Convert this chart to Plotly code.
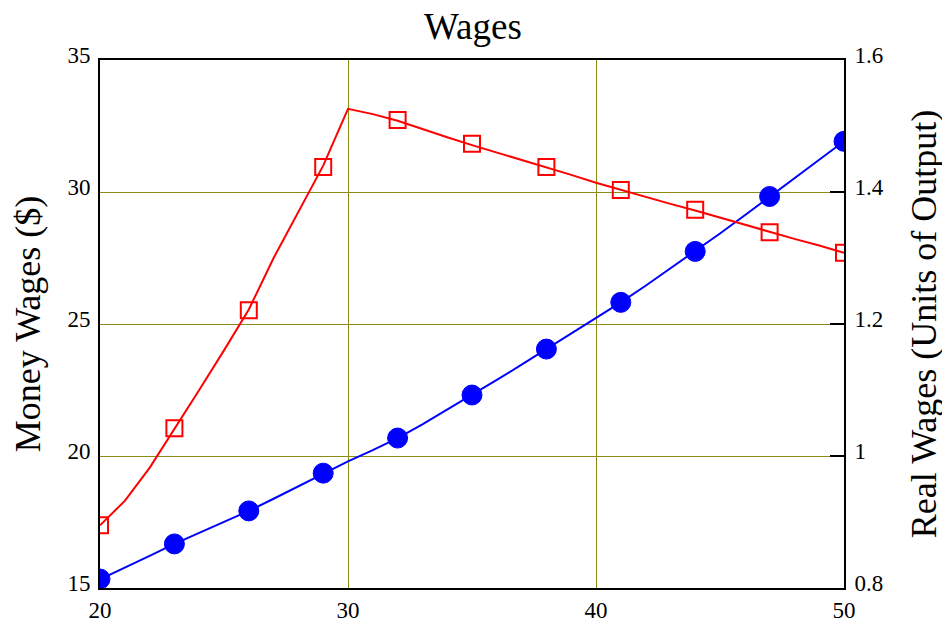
import plotly.graph_objects as go

# Dense curve samples (x = 20..50)
x_line = list(range(20, 51))
money_line = [15.33, 15.76, 16.22, 16.67, 17.08, 17.50, 17.92, 18.38, 18.86, 19.35,
              19.80, 20.22, 20.68, 21.20, 21.75, 22.31, 22.88, 23.46, 24.05, 24.63,
              25.22, 25.82, 26.45, 27.10, 27.75, 28.43, 29.12, 29.83, 30.52, 31.22, 31.92]
real_line = [0.895, 0.932, 0.982, 1.040, 1.100, 1.160, 1.222, 1.300, 1.370, 1.440,
             1.526, 1.518, 1.508, 1.495, 1.483, 1.471, 1.460, 1.449, 1.438, 1.426,
             1.414, 1.403, 1.393, 1.382, 1.372, 1.361, 1.351, 1.340, 1.329, 1.319, 1.308]

# Marker samples (every 3 units)
x_mark = [20, 23, 26, 29, 32, 35, 38, 41, 44, 47, 50]
money_mark = [15.34, 16.67, 17.92, 19.35, 20.68, 22.31, 24.05, 25.82, 27.75, 29.83, 31.92]
real_mark = [0.895, 1.042, 1.221, 1.438, 1.509, 1.473, 1.438, 1.403, 1.373, 1.339, 1.308]

x_ticks = [20, 30, 40, 50]
left_ticks = [15, 20, 25, 30, 35]
right_ticks = [0.8, 1.0, 1.2, 1.4, 1.6]
right_labels = ["0.8", "1", "1.2", "1.4", "1.6"]

BLUE = "#0000FF"
RED = "#FF0000"
GRID = "#8C8C14"
FONT = "Liberation Serif"

fig = go.Figure()
fig.add_trace(go.Scatter(x=x_line, y=money_line, mode="lines",
                         line=dict(color=BLUE, width=2), yaxis="y", showlegend=False))
fig.add_trace(go.Scatter(x=x_mark, y=money_mark, mode="markers",
                         marker=dict(symbol="circle", size=20, color=BLUE,
                                     line=dict(color=BLUE, width=1)),
                         yaxis="y", showlegend=False))
fig.add_trace(go.Scatter(x=x_line, y=real_line, mode="lines",
                         line=dict(color=RED, width=2), yaxis="y2", showlegend=False))
fig.add_trace(go.Scatter(x=x_mark, y=real_mark, mode="markers",
                         marker=dict(symbol="square-open", size=16, color=RED,
                                     line=dict(color=RED, width=2)),
                         yaxis="y2", showlegend=False))

# The page body adds an 8px margin, so the figure is sized/margined to compensate.
fig.update_layout(
    width=942, height=615,
    margin=dict(l=92, r=106, t=52, b=35, autoexpand=False),
    paper_bgcolor="white", plot_bgcolor="white",
    font=dict(family=FONT, color="black", size=23),
    title=dict(text="Wages", x=0.4936, xanchor="center", y=0.971, yanchor="middle",
               font=dict(family=FONT, size=37, color="black")),
    xaxis=dict(range=[20, 50], tickvals=x_ticks, ticktext=[str(v) for v in x_ticks],
               showgrid=True, gridcolor=GRID, gridwidth=1, automargin=False,
               showline=True, linecolor="black", linewidth=2, mirror=True,
               ticks="", zeroline=False, ticklabelstandoff=0,
               tickfont=dict(family=FONT, size=23)),
    yaxis=dict(range=[15, 35], tickvals=left_ticks, ticktext=[str(v) for v in left_ticks],
               showgrid=True, gridcolor=GRID, gridwidth=1, automargin=False,
               showline=True, linecolor="black", linewidth=2,
               ticks="", zeroline=False, ticklabelstandoff=3, ticklabelshift=-5,
               tickfont=dict(family=FONT, size=23),
               title=dict(text="Money Wages ($)", standoff=18,
                          font=dict(family=FONT, size=36))),
    yaxis2=dict(range=[0.8, 1.6], tickvals=right_ticks, ticktext=right_labels,
                overlaying="y", side="right", showgrid=False, automargin=False,
                showline=True, linecolor="black", linewidth=2,
                ticks="inside", ticklen=14, tickcolor="black", tickwidth=2,
                zeroline=False, ticklabelstandoff=4, ticklabelshift=-5,
                tickfont=dict(family=FONT, size=23),
                title=dict(text="Real Wages (Units of Output)", standoff=28,
                           font=dict(family=FONT, size=36))),
)

fig.write_html("out.html")
